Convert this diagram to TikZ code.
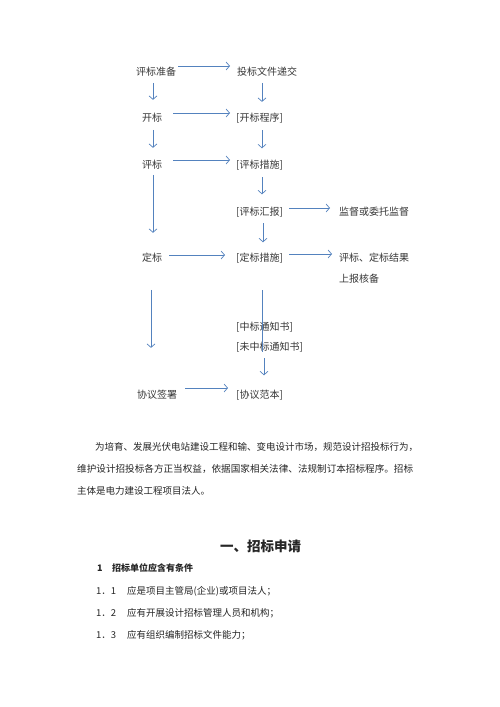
\documentclass[tikz,border=0pt]{standalone}
\usepackage{fontspec}
\setmainfont{Noto Sans CJK SC}
\usetikzlibrary{arrows.meta,calc}
\definecolor{arrblue}{RGB}{84,130,190}
\definecolor{txtgray}{RGB}{55,55,55}
\tikzset{
  ft/.style={anchor=west, inner sep=0pt, font=\fontsize{10}{12}\selectfont, text=txtgray},
  pt/.style={anchor=west, inner sep=0pt, font=\fontsize{9.5}{11}\selectfont, text=black!85},
  arr/.style={draw=arrblue, line width=0.7pt, -{Straight Barb[length=3.5pt,width=8pt,line width=0.7pt]}},
  plainln/.style={draw=arrblue, line width=0.7pt}
}
\begin{document}
\begin{tikzpicture}[x=1pt,y=-1pt]
\useasboundingbox (0,0) rectangle (500,707);
\fill[white] (0,0) rectangle (500,707);
% column coordinates
\coordinate (L) at (153,0);
\coordinate (L2) at (151,0);
\coordinate (R) at (262,0);
\coordinate (R2) at (263,0);
\coordinate (R3) at (264,0);
% flow nodes
\node[ft] (pb) at (136,72) {评标准备};
\node[ft] (tj) at (237,72) {投标文件递交};
\node[ft] (kb) at (142,118) {开标};
\node[ft] (kbcx) at (236,118) {[开标程序]};
\node[ft] (pbb) at (142,165) {评标};
\node[ft] (pbcs) at (236,165) {[评标措施]};
\node[ft] (pbhb) at (236,212) {[评标汇报]};
\node[ft] (jd) at (339,212) {监督或委托监督};
\node[ft] (db) at (142,258) {定标};
\node[ft] (dbcs) at (236,258) {[定标措施]};
\node[ft] (jg1) at (339,258) {评标、定标结果};
\node[ft] (jg2) at (339,279) {上报核备};
\node[ft] (zb) at (236,327) {[中标通知书]};
\node[ft] (wzb) at (236,347) {[未中标通知书]};
\node[ft] (xy) at (137,395) {协议签署};
\node[ft] (xyfb) at (236,395) {[协议范本]};
% horizontal arrows
\draw[arr] ($(pb.east)+(2,-6)$) -- ($(tj.west)+(-7,-6)$);
\draw[arr] ($(kb.east)+(11,-5)$) -- ($(kbcx.west)+(-6,-5)$);
\draw[arr] ($(pbb.east)+(11,-5)$) -- ($(pbcs.west)+(-6,-5)$);
\draw[arr] ($(pbhb.east)+(6,-4)$) -- ($(jd.west)+(-9,-4)$);
\draw[arr] ($(db.east)+(7,-3)$) -- ($(dbcs.west)+(-11,-3)$);
\draw[arr] ($(dbcs.east)+(6,-4)$) -- ($(jg1.west)+(-7,-4)$);
\draw[arr] ($(xy.east)+(8,-7)$) -- ($(xyfb.west)+(-8,-7)$);
% vertical arrows left
\draw[arr] (L |- pb.south) ++(0,6) -- ++(0,17);
\draw[arr] (L |- kb.south) ++(0,7) -- ++(0,18);
\draw[arr] (L |- pbb.south) ++(0,5) -- ++(0,58);
\draw[arr] (L2 |- db.south) ++(0,27) -- ++(0,58);
% vertical arrows right
\draw[arr] (R |- tj.south) ++(0,6) -- ++(0,19);
\draw[arr] (R |- kbcx.south) ++(0,7) -- ++(0,18);
\draw[arr] (R |- pbcs.south) ++(0,7) -- ++(0,17);
\draw[arr] (R2 |- pbhb.south) ++(0,6) -- ++(0,19);
\draw[plainln] (R |- dbcs.south) ++(0,27) -- ++(0,62);
\draw[arr] (R3 |- wzb.south) ++(0,6) -- ++(0,17);
% paragraph
\node[pt, font=\fontsize{9.5}{11}\selectfont] (p1) at (95,447) {为培育、发展光伏电站建设工程和输、变电设计市场，规范设计招投标行为，};
\node[pt, font=\fontsize{9.6}{11}\selectfont] (p2) at (77,469) {维护设计招投标各方正当权益，依据国家相关法律、法规制订本招标程序。招标};
\node[pt] (p3) at (77,491) {主体是电力建设工程项目法人。};
% heading
\node[anchor=west, inner sep=0pt, font=\fontsize{13.5}{15}\selectfont\bfseries, text=black!85] (h1) at (220,546) {一、招标申请};
\node[anchor=west, inner sep=0pt, font=\fontsize{9}{11}\selectfont\bfseries, text=black!85] (s1n) at (97,568) {1};
\node[anchor=west, inner sep=0pt, font=\fontsize{9}{11}\selectfont\bfseries, text=black!85] (s1) at (112,568) {招标单位应含有条件};
\node[pt] (i1n) at (96,591) {1．1};
\node[pt] (i1) at (127,591) {应是项目主管局(企业)或项目法人；};
\node[pt] (i2n) at (96,613) {1．2};
\node[pt] (i2) at (127,613) {应有开展设计招标管理人员和机构；};
\node[pt] (i3n) at (96,635) {1．3};
\node[pt] (i3) at (127,635) {应有组织编制招标文件能力；};
\end{tikzpicture}
\end{document}
